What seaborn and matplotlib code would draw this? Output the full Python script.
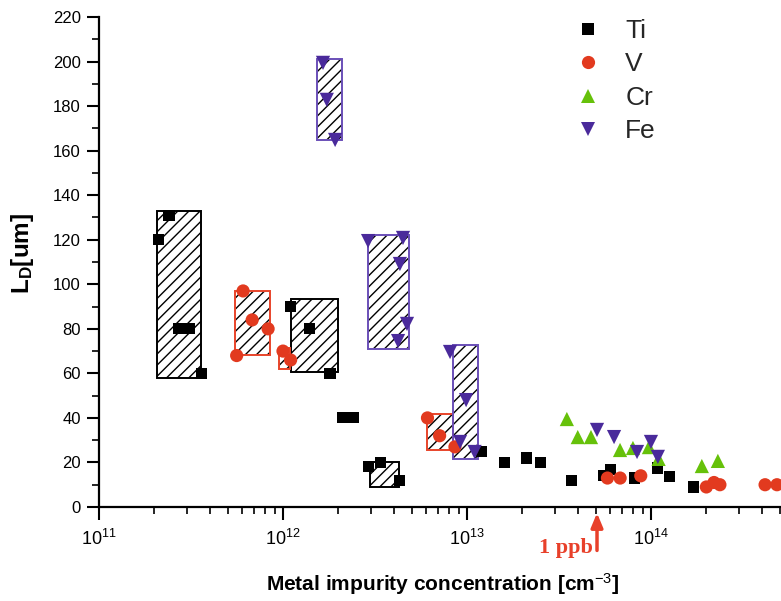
import numpy as np
import pandas as pd
import matplotlib
matplotlib.use("Agg")
import matplotlib.pyplot as plt
import seaborn as sns
from matplotlib.patches import Rectangle
from matplotlib.lines import Line2D
from matplotlib.ticker import MultipleLocator

# ---------------- data ----------------
ti_x = [2.1e11, 2.4e11, 2.72e11, 3.1e11, 3.6e11, 1.1e12, 1.4e12, 1.8e12, 2.1e12, 2.4e12,
        2.9e12, 3.4e12, 4.3e12, 1.2e13, 1.6e13, 2.1e13, 2.5e13, 3.7e13, 5.5e13, 6.0e13,
        8.1e13, 1.08e14, 1.26e14, 1.7e14]
ti_y = [120, 131, 80, 80, 60, 90, 80, 60, 40, 40,
        18, 20, 12, 25, 20, 22, 20, 12, 14, 17,
        13, 17.5, 13.5, 9]

v_x = [5.6e11, 6.07e11, 6.8e11, 8.3e11, 1.0e12, 1.1e12, 6.1e12, 7.1e12, 8.6e12,
       5.8e13, 6.8e13, 8.8e13, 2.0e14, 2.2e14, 2.37e14, 4.17e14, 4.84e14]
v_y = [68, 97, 84, 80, 70, 66, 40, 32, 27,
       13, 13, 14, 9, 11, 10, 10, 10]

cr_x = [3.49e13, 4.0e13, 4.72e13, 6.79e13, 7.98e13, 9.75e13, 1.1e14, 1.89e14, 2.31e14]
cr_y = [39.5, 31.4, 31.4, 25.6, 26.5, 26.9, 21.6, 18.4, 20.7]

fe_x = [1.65e12, 1.73e12, 1.92e12, 2.9e12, 4.49e12, 4.32e12, 4.72e12, 4.22e12,
        8.09e12, 9.89e12, 9.17e12, 1.1e13, 5.09e13, 6.3e13, 8.4e13, 1.0e14, 1.09e14]
fe_y = [199.4, 182.8, 164.8, 119.4, 120.8, 109.1, 82.2, 74.5,
        69.6, 48, 29.2, 24.7, 34.6, 31.4, 24.7, 29.2, 22.5]

# hatched ranges (x from, x to, y from, y to, metal)
box_x0 = [2.07e11, 1.1e12, 2.97e12, 5.48e11, 9.5e11, 6.07e12, 1.53e12, 2.9e12, 8.4e12]
box_x1 = [3.58e11, 2.0e12, 4.27e12, 8.5e11, 1.09e12, 8.4e12, 2.09e12, 4.84e12, 1.15e13]
box_y0 = [57.9, 60.6, 9.0, 68.3, 62.0, 25.6, 164.8, 71.0, 21.6]
box_y1 = [132.9, 93.4, 20.2, 97.0, 71.4, 41.8, 201.2, 122.1, 72.7]
box_metal = ["Ti", "Ti", "Ti", "V", "V", "V", "Fe", "Fe", "Fe"]

metals = ["Ti", "V", "Cr", "Fe"]
ppb_x = 5.09e13

# ---------------- style ----------------
sns.set_theme(style="ticks")
plt.rcParams["font.family"] = ["Liberation Sans", "DejaVu Sans"]
plt.rcParams["mathtext.fontset"] = "custom"
plt.rcParams["mathtext.rm"] = "Liberation Sans"
plt.rcParams["mathtext.bf"] = "Liberation Sans:bold"
plt.rcParams["mathtext.it"] = "Liberation Sans:italic"
plt.rcParams["hatch.linewidth"] = 1.0
plt.rcParams["hatch.color"] = "black"

colors = {"Ti": "#000000", "V": "#e23a1f", "Cr": "#66c10a", "Fe": "#4a2a9b"}
edge_colors = {"Ti": "#000000", "V": "#e8442a", "Fe": "#6a4fb8"}
markers = {"Ti": "s", "V": "o", "Cr": "^", "Fe": "v"}
sizes = {"Ti": 64, "V": 90, "Cr": 105, "Fe": 105}
msizes = {"Ti": 8, "V": 9.5, "Cr": 10.2, "Fe": 10.2}

df = pd.concat([
    pd.DataFrame({"conc": ti_x, "ld": ti_y, "metal": "Ti"}),
    pd.DataFrame({"conc": v_x, "ld": v_y, "metal": "V"}),
    pd.DataFrame({"conc": cr_x, "ld": cr_y, "metal": "Cr"}),
    pd.DataFrame({"conc": fe_x, "ld": fe_y, "metal": "Fe"}),
], ignore_index=True)

fig = plt.figure(figsize=(7.81, 6.01), dpi=100)
ax = fig.add_axes([99 / 781, 94 / 601, 682 / 781, 490 / 601])

ax.set_xscale("log")
ax.set_xlim(1e11, 5.09e14)
ax.set_ylim(0, 220)

# hatched boxes
for x0, x1, y0, y1, m in zip(box_x0, box_x1, box_y0, box_y1, box_metal):
    ax.add_patch(Rectangle((x0, y0), x1 - x0, y1 - y0, facecolor="white",
                           edgecolor="black", hatch="///", linewidth=0, zorder=1))
    ax.add_patch(Rectangle((x0, y0), x1 - x0, y1 - y0, fill=False,
                           edgecolor=edge_colors[m], linewidth=1.4, zorder=2))

sns.scatterplot(data=df, x="conc", y="ld", hue="metal", style="metal", size="metal",
                palette=colors, markers=markers, sizes=sizes, hue_order=metals,
                style_order=metals, size_order=metals, linewidth=0, legend=False,
                ax=ax, zorder=3)

# axes styling
ax.yaxis.set_major_locator(MultipleLocator(20))
ax.yaxis.set_minor_locator(MultipleLocator(10))
for s in ["top", "right"]:
    ax.spines[s].set_visible(False)
for s in ["left", "bottom"]:
    ax.spines[s].set_color("black")
    ax.spines[s].set_linewidth(1.6)
ax.tick_params(axis="both", which="major", direction="out", length=9, width=1.5,
               color="black", labelcolor="black")
ax.tick_params(axis="both", which="minor", direction="out", length=5, width=1.2,
               color="black")
ax.tick_params(axis="x", labelsize=13, pad=7)
ax.tick_params(axis="y", labelsize=12, pad=4)

ax.set_ylabel(r"$\mathbf{L_D[um]}$", fontsize=17.5, color="black")
ax.yaxis.set_label_coords(-0.092, 0.518)
ax.set_xlabel(r"Metal impurity concentration [cm$^{-3}$]", fontsize=15,
              fontweight="bold", color="black")
ax.xaxis.set_label_coords(0.504, -0.13)

# legend
handles = [Line2D([], [], marker=markers[m], color=colors[m], linestyle="",
                  markersize=msizes[m], markeredgewidth=0) for m in metals]
ax.legend(handles, metals, loc="upper left", bbox_to_anchor=(0.698, 0.996),
          frameon=False, fontsize=19, handlelength=1.0, handletextpad=0.9,
          labelspacing=0.36, borderpad=0, borderaxespad=0)

# 1 ppb marker
red = "#e8402a"
ax.annotate("", xy=(ppb_x, -2.7), xytext=(ppb_x, -19.5),
            arrowprops=dict(arrowstyle="-|>,head_width=0.25,head_length=0.6",
                            color=red, lw=2.5, shrinkA=0, shrinkB=0,
                            mutation_scale=14),
            annotation_clip=False)
ax.text(4.84e13, -20.7, "1 ppb", ha="right", va="baseline", fontsize=16,
        fontweight="bold", family=["Liberation Serif", "DejaVu Serif"], color=red,
        clip_on=False)

fig.savefig("out.png", dpi=100)
